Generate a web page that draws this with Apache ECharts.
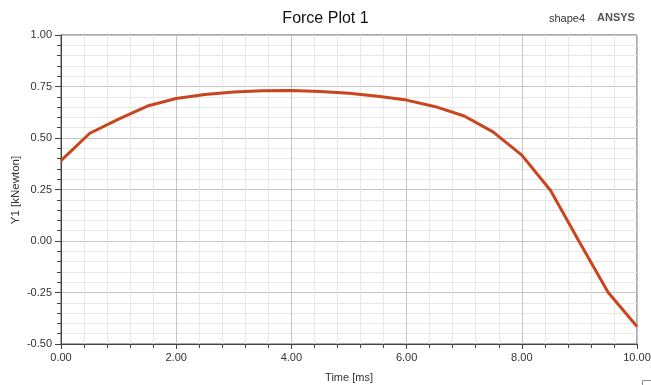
<!DOCTYPE html>
<html>
<head>
<meta charset="utf-8">
<script src="https://cdn.jsdelivr.net/npm/echarts@6/dist/echarts.min.js"></script>
<style>
  html, body { margin: 0; padding: 0; background: #fff; }
  #chart { width: 651px; height: 385px; }
</style>
</head>
<body>
<div id="chart"></div>
<script>
// time samples [ms] and force values [kNewton]
const times = [0, 0.5, 1.0, 1.5, 2.0, 2.5, 3.0, 3.5, 4.0, 4.5, 5.0, 5.5, 6.0, 6.5, 7.0, 7.5, 8.0, 8.5, 9.0, 9.5, 10.0];
const forces = [0.39, 0.523, 0.592, 0.655, 0.692, 0.711, 0.723, 0.729, 0.73, 0.726, 0.717, 0.703, 0.684, 0.652, 0.607, 0.53, 0.417, 0.245, -0.005, -0.25, -0.415];

const chart = echarts.init(document.getElementById('chart'));
const axisFont = { color: '#333', fontSize: 11, fontFamily: 'Liberation Sans, Arial, sans-serif' };

chart.setOption({
  animation: false,
  backgroundColor: '#fff',
  title: {
    text: 'Force Plot 1',
    left: 'center',
    top: 6,
    textStyle: { fontSize: 16, fontWeight: 'normal', color: '#111', fontFamily: 'Liberation Sans, Arial, sans-serif' }
  },
  grid: {
    left: 61, right: 14, top: 35, bottom: 41,
    outerBoundsMode: 'none',
    containLabel: false,
    show: true, borderColor: '#555', borderWidth: 1
  },
  xAxis: {
    type: 'value',
    min: 0, max: 10, interval: 2,
    name: 'Time [ms]',
    nameLocation: 'middle',
    nameGap: 28,
    nameTextStyle: { color: '#333', fontSize: 11, fontFamily: 'Liberation Sans, Arial, sans-serif' },
    axisLine: { show: true, onZero: false, lineStyle: { color: '#444', width: 1 } },
    axisTick: { show: true, length: 5, lineStyle: { color: '#444' } },
    minorTick: { show: true, splitNumber: 5, length: 4, lineStyle: { color: '#444' } },
    splitLine: { show: true, lineStyle: { color: '#c4c4c4', width: 1 } },
    minorSplitLine: { show: true, lineStyle: { color: '#e8e8e8', width: 1 } },
    axisLabel: Object.assign({ margin: 8, formatter: v => v.toFixed(2) }, axisFont)
  },
  yAxis: {
    type: 'value',
    min: -0.5, max: 1.0, interval: 0.25,
    axisLine: { show: true, onZero: false, lineStyle: { color: '#444', width: 1 } },
    axisTick: { show: true, length: 6, lineStyle: { color: '#444' } },
    minorTick: { show: true, splitNumber: 5, length: 4, lineStyle: { color: '#444' } },
    splitLine: { show: true, lineStyle: { color: '#c4c4c4', width: 1 } },
    minorSplitLine: { show: true, lineStyle: { color: '#e8e8e8', width: 1 } },
    axisLabel: Object.assign({ margin: 9, formatter: v => v.toFixed(2) }, axisFont)
  },
  graphic: [
    {
      type: 'text', x: 16, y: 190, rotation: Math.PI / 2,
      style: { text: 'Y1 [kNewton]', fill: '#333', fontSize: 11.5, align: 'center', verticalAlign: 'middle', fontFamily: 'Liberation Sans, Arial, sans-serif' }
    },
    { type: 'text', left: 549, top: 13, style: { text: 'shape4', fill: '#333', fontSize: 11, fontFamily: 'Liberation Sans, Arial, sans-serif' } },
    { type: 'text', left: 597, top: 12, style: { text: 'ANSYS', fill: '#555', fontSize: 11, fontWeight: 'bold', fontFamily: 'Liberation Sans, Arial, sans-serif' } },
    { type: 'rect', left: 640, top: 378, shape: { width: 14, height: 12 }, style: { fill: 'none', stroke: '#888', lineWidth: 1 } }
  ],
  series: [{
    type: 'line',
    data: times.map((t, i) => [t, forces[i]]),
    showSymbol: false,
    smooth: false,
    lineStyle: { color: '#c9451e', width: 3 }
  }]
});
</script>
</body>
</html>
